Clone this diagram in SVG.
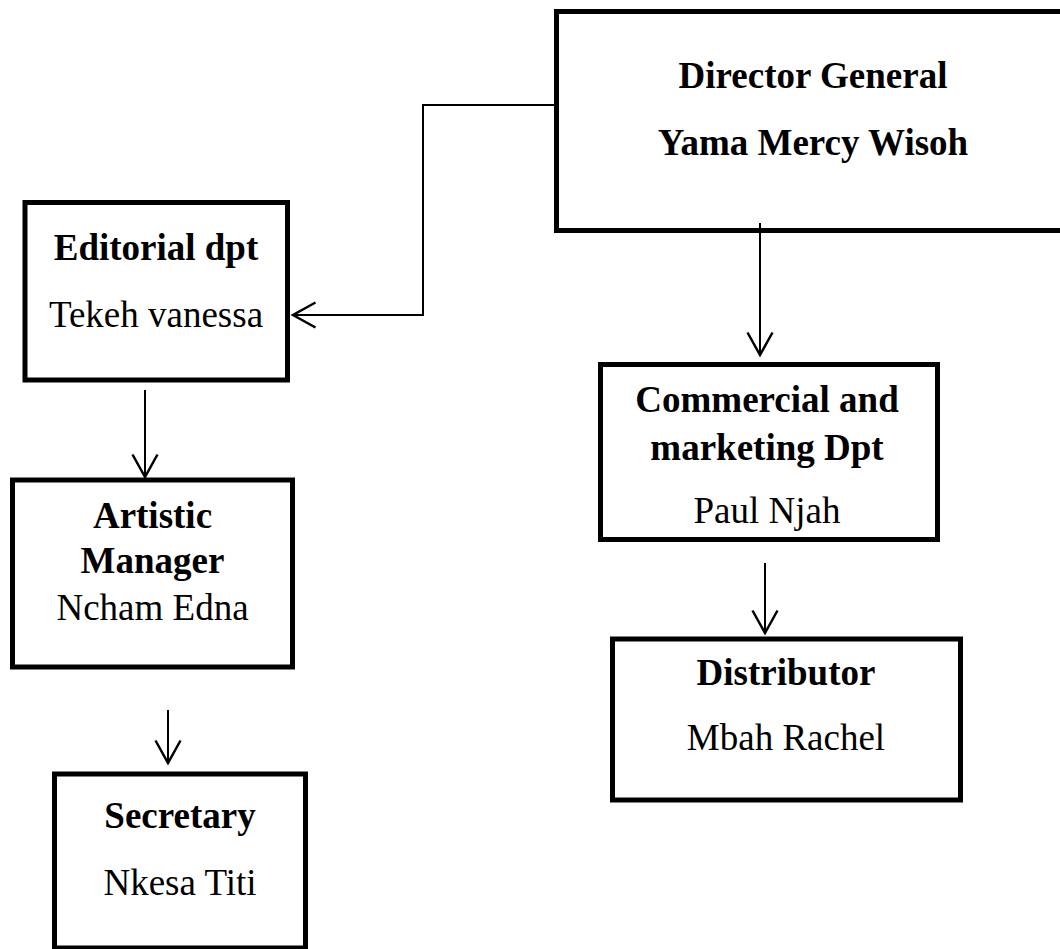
<svg xmlns="http://www.w3.org/2000/svg" width="1060" height="949" viewBox="0 0 1060 949">
<style>
.box{fill:#fff;stroke:#000;stroke-width:5}
.t{font-family:"Liberation Serif","Times New Roman",serif;font-size:37px;fill:#000;text-anchor:middle}
.b{font-weight:bold}
.c{fill:none;stroke:#000;stroke-width:2}
</style>
<defs>
<marker id="arr" markerUnits="userSpaceOnUse" markerWidth="30" markerHeight="30" viewBox="-20 -12 22 24" refX="0" refY="0" orient="auto">
<path d="M-18,-10 L0,0 L-18,10" fill="none" stroke="#000" stroke-width="2"/>
</marker>
</defs>
<rect width="1060" height="949" fill="#fff"/>
<g id="director">
<rect class="box" x="556.5" y="11.5" width="515" height="219"/>
<text class="t b" x="813" y="88">Director General</text>
<text class="t b" x="813" y="155">Yama Mercy Wisoh</text>
</g>
<g id="editorial">
<rect class="box" x="25" y="202.5" width="262.5" height="177.5"/>
<text class="t b" x="156" y="260">Editorial dpt</text>
<text class="t" x="156" y="327">Tekeh vanessa</text>
</g>
<g id="artistic">
<rect class="box" x="12.5" y="480" width="280" height="187"/>
<text class="t b" x="152.5" y="528">Artistic</text>
<text class="t b" x="152.5" y="573">Manager</text>
<text class="t" x="152.5" y="620">Ncham Edna</text>
</g>
<g id="secretary">
<rect class="box" x="54.5" y="774" width="251" height="174"/>
<text class="t b" x="180" y="828">Secretary</text>
<text class="t" x="180" y="895">Nkesa Titi</text>
</g>
<g id="commercial">
<rect class="box" x="600.5" y="364.5" width="337" height="175"/>
<text class="t b" x="767" y="412">Commercial and</text>
<text class="t b" x="767" y="460">marketing Dpt</text>
<text class="t" x="767" y="523">Paul Njah</text>
</g>
<g id="distributor">
<rect class="box" x="612.5" y="639" width="348" height="161"/>
<text class="t b" x="786" y="685">Distributor</text>
<text class="t" x="786" y="750">Mbah Rachel</text>
</g>
<g id="connectors">
<path class="c" d="M555,105 H423 V315 H293" marker-end="url(#arr)"/>
<path class="c" d="M760,223 V355" marker-end="url(#arr)"/>
<path class="c" d="M145,390 V477" marker-end="url(#arr)"/>
<path class="c" d="M765,563 V633" marker-end="url(#arr)"/>
<path class="c" d="M168,710 V763" marker-end="url(#arr)"/>
</g>
</svg>
